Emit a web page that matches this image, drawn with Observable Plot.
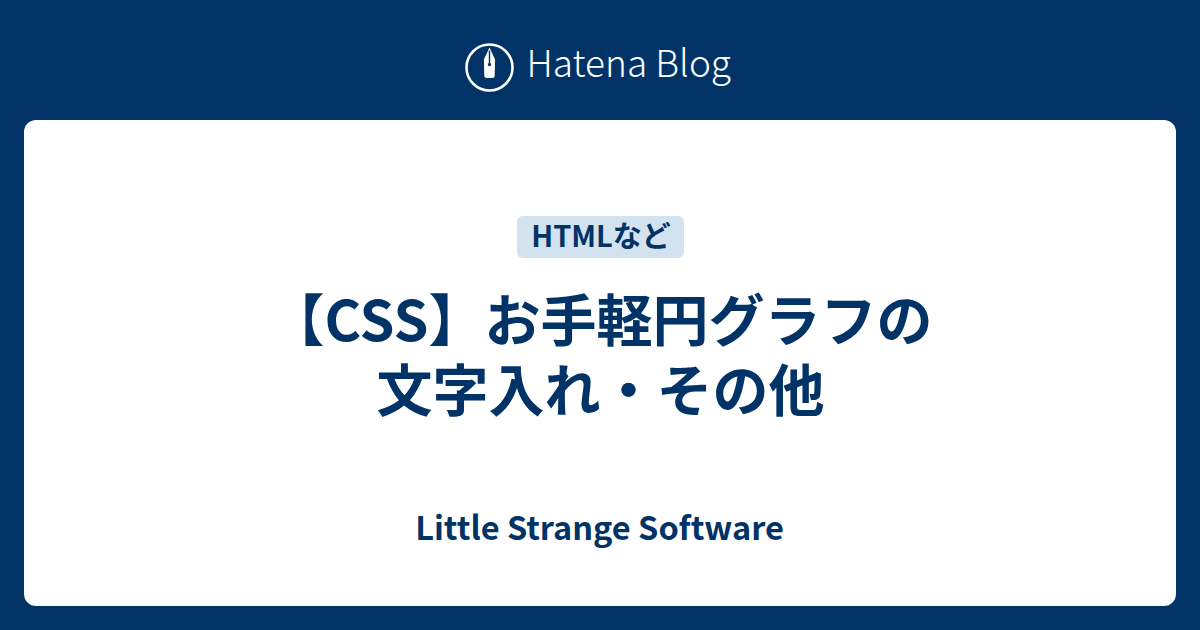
<!DOCTYPE html>
<html>
<head>
<meta charset="utf-8">
<script src="https://cdn.jsdelivr.net/npm/d3@7"></script>
<script src="https://cdn.jsdelivr.net/npm/@observablehq/plot@0.6"></script>
<style>
  html, body { margin: 0; padding: 0; background: #013367; }
  #chart svg { display: block; }
</style>
</head>
<body>
<div id="chart"></div>
<script>
// Text content of the card
const brand = ["Hatena Blog"];
const tags = ["HTMLなど"];
const titleLines = ["【CSS】お手軽円グラフの", "文字入れ・その他"];
const footer = ["Little Strange Software"];

const NAVY = "#013367";
const FONT = "'Noto Sans CJK JP', 'Noto Sans', sans-serif";

// pen-nib symbol for the logo (drawn relative to the dot centre)
const nib = {
  draw(ctx) {
    ctx.moveTo(0, -20);
    ctx.lineTo(5.6, -8);
    ctx.lineTo(5.2, 8);
    ctx.quadraticCurveTo(5.2, 10.5, 2.5, 10.5);
    ctx.lineTo(-2.5, 10.5);
    ctx.quadraticCurveTo(-5.2, 10.5, -5.2, 8);
    ctx.lineTo(-5.6, -8);
    ctx.closePath();
  }
};
const slit = {
  draw(ctx) {
    ctx.moveTo(-0.7, -17);
    ctx.lineTo(0.7, -17);
    ctx.lineTo(0.7, -4);
    ctx.lineTo(-0.7, -4);
    ctx.closePath();
    ctx.moveTo(1.7, -3);
    ctx.arc(0, -3, 1.7, 0, 2 * Math.PI);
  }
};

const chart = Plot.plot({
  width: 1200,
  height: 630,
  margin: 0,
  x: {domain: [0, 1200], range: [0, 1200], axis: null},
  y: {domain: [0, 630], range: [0, 630], axis: null},
  style: {background: NAVY, fontFamily: FONT},
  marks: [
    // white card
    Plot.rect([0], {x1: 24, x2: 1176, y1: 120, y2: 606, fill: "white", rx: 12}),
    // logo
    Plot.dot([0], {x: 489, y: 67, r: 23, stroke: "white", strokeWidth: 2.6, fill: "none"}),
    Plot.dot([0], {x: 489, y: 67, r: 10, symbol: nib, fill: "white", stroke: "none"}),
    Plot.dot([0], {x: 489, y: 67, r: 10, symbol: slit, fill: NAVY, stroke: "none"}),
    Plot.text(brand, {x: 526, y: 65, text: d => d, textAnchor: "start", fill: "white",
      fontSize: 37, fontWeight: 300, fontFamily: FONT}),
    // tag
    Plot.rect(tags, {x1: 517, x2: 684, y1: 216, y2: 258, fill: "#d3e2ef", rx: 6}),
    Plot.text(tags, {x: 600.5, y: 237, text: d => d, fill: NAVY, fontSize: 29,
      fontWeight: 700, fontFamily: FONT}),
    // title (one multi-line text)
    Plot.text([titleLines.join("\n")], {x: 600, y: 353, text: d => d, fill: NAVY,
      fontSize: 56, lineHeight: 1.25, fontWeight: 700, fontFamily: FONT}),
    // footer
    Plot.text(footer, {x: 599, y: 529, text: d => d, fill: NAVY, fontSize: 32.5,
      fontWeight: 700, fontFamily: FONT})
  ]
});
document.getElementById("chart").append(chart);
</script>
</body>
</html>
